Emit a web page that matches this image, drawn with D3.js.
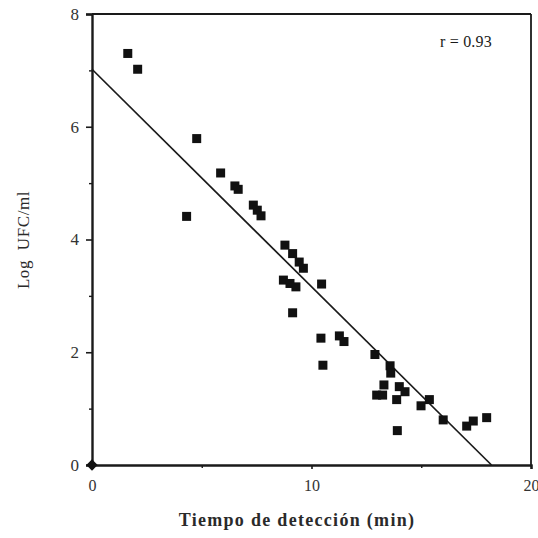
<!DOCTYPE html>
<html><head><meta charset="utf-8">
<script src="https://cdn.jsdelivr.net/npm/d3@7"></script>
<style>html,body{margin:0;padding:0;background:#fff;}</style>
</head><body>
<svg id="c" width="538" height="538"></svg>
<script>
const detectionTime = [1.63,2.08,4.77,4.31,5.86,6.51,6.66,7.35,7.53,7.70,8.79,9.14,9.44,9.63,8.72,9.02,9.29,10.46,9.14,10.43,11.27,11.48,10.52,12.89,13.58,13.61,13.30,12.97,13.24,14.00,14.26,13.88,14.99,15.37,16.00,17.07,17.37,17.98,13.91];
const logUFC = [7.30,7.02,5.79,4.41,5.18,4.95,4.89,4.61,4.52,4.42,3.90,3.75,3.60,3.49,3.28,3.22,3.16,3.21,2.70,2.25,2.29,2.19,1.77,1.96,1.76,1.63,1.42,1.24,1.24,1.39,1.30,1.16,1.05,1.16,0.80,0.69,0.78,0.84,0.61];
const originPoint = [0, 0];
const regressionIntercept = 7.02;
const regressionXIntercept = 18.2;
const xTickLabels = [0, 10, 20];
const yTickLabels = [0, 2, 4, 6, 8];
const xMinorTicks = [5, 15];
const yMinorTicks = [1, 3, 5, 7];
const rLabel = "r = 0.93";
const xTitle = "Tiempo de detección (min)";
const yTitle = "Log  UFC/ml";

const svg = d3.select("#c");
const L = 92, R = 531, T = 14, B = 465;
const x = d3.scaleLinear().domain([0, 20]).range([L, R]);
const y = d3.scaleLinear().domain([0, 8]).range([B, T]);
const font = "'Liberation Serif','DejaVu Serif',serif";
const ink = "#1a1a1a";

// frame top and right
svg.append("line").attr("x1", L).attr("x2", R).attr("y1", T).attr("y2", T).attr("stroke", ink).attr("stroke-width", 1.8);
svg.append("line").attr("x1", R).attr("x2", R).attr("y1", T).attr("y2", B).attr("stroke", ink).attr("stroke-width", 1.8);

// y axis
const yAxis = d3.axisLeft(y).tickValues(yTickLabels).tickSize(6).tickPadding(7).tickFormat(d3.format("d"));
const gy = svg.append("g").attr("transform", `translate(${L},0)`).call(yAxis);
gy.select(".domain").attr("stroke", ink).attr("stroke-width", 2.4);
gy.selectAll(".tick line").attr("stroke", ink).attr("stroke-width", 1.6);
gy.selectAll(".tick text").attr("font-family", font).attr("font-size", 17).attr("fill", "#333");
const gym = svg.append("g").attr("transform", `translate(${L},0)`).call(d3.axisLeft(y).tickValues(yMinorTicks).tickSize(3).tickFormat(""));
gym.select(".domain").remove();
gym.selectAll(".tick line").attr("stroke", ink).attr("stroke-width", 1.4);

// x axis
const xAxis = d3.axisBottom(x).tickValues(xTickLabels).tickSize(4).tickPadding(11).tickFormat(d3.format("d"));
const gx = svg.append("g").attr("transform", `translate(0,${B})`).call(xAxis);
gx.select(".domain").attr("stroke", ink).attr("stroke-width", 2.4);
gx.selectAll(".tick line").attr("stroke", ink).attr("stroke-width", 1.6);
gx.selectAll(".tick text").attr("font-family", font).attr("font-size", 16).attr("fill", "#333");
const gxm = svg.append("g").attr("transform", `translate(0,${B})`).call(d3.axisBottom(x).tickValues(xMinorTicks).tickSize(3).tickFormat(""));
gxm.select(".domain").remove();
gxm.selectAll(".tick line").attr("stroke", ink).attr("stroke-width", 1.4);

// regression line
svg.append("line")
  .attr("x1", x(0)).attr("y1", y(regressionIntercept))
  .attr("x2", x(regressionXIntercept)).attr("y2", y(0))
  .attr("stroke", ink).attr("stroke-width", 1.7);

// points
const pts = detectionTime.map((d, i) => [d, logUFC[i]]);
const s = 9;
svg.append("g").selectAll("rect").data(pts).join("rect")
  .attr("x", d => x(d[0]) - s / 2).attr("y", d => y(d[1]) - s / 2)
  .attr("width", s).attr("height", s).attr("fill", "#111");

// origin marker
svg.append("rect")
  .attr("x", -4).attr("y", -4).attr("width", 8).attr("height", 8)
  .attr("transform", `translate(${x(originPoint[0])},${y(originPoint[1])}) rotate(45)`)
  .attr("fill", "#111");

// r label
svg.append("text").attr("x", 466).attr("y", 47).attr("text-anchor", "middle")
  .attr("font-family", font).attr("font-size", 16).attr("letter-spacing", 0.2).attr("fill", ink).text(rLabel);

// axis titles
svg.append("text").attr("x", 297).attr("y", 526).attr("text-anchor", "middle")
  .attr("font-family", font).attr("font-size", 18).attr("letter-spacing", 1.3).attr("font-weight", "bold").attr("fill", "#2a2a2a").text(xTitle);
svg.append("text").attr("transform", "translate(29,240) rotate(-90)").attr("text-anchor", "middle")
  .attr("font-family", font).attr("font-size", 17).attr("letter-spacing", 0.6).attr("fill", "#2a2a2a").style("white-space", "pre").text(yTitle);
</script>
</body></html>
